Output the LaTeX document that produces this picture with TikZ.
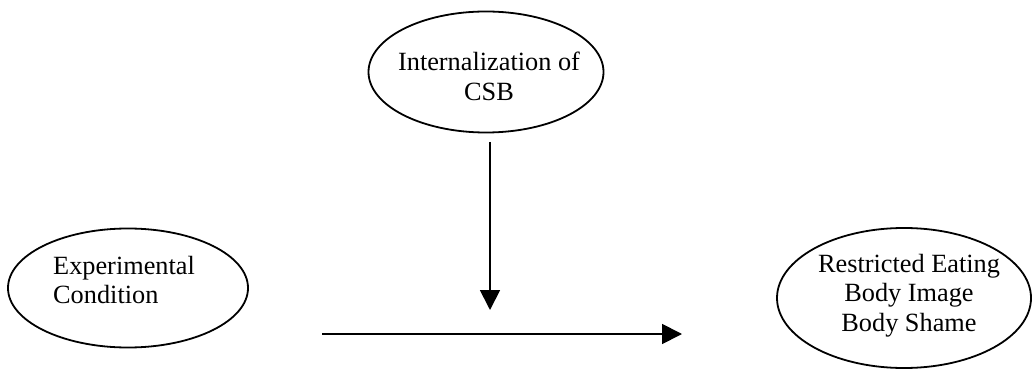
\documentclass[tikz,border=0pt]{standalone}
\usepackage{fontspec}
\setmainfont{Liberation Serif}
\usetikzlibrary{shapes.geometric,arrows.meta}

\begin{document}
\begin{tikzpicture}[x=1pt,y=-1pt,
  oval/.style={draw=black, line width=1.8pt, shape=ellipse, inner sep=0pt},
  label text/.style={inner sep=0pt, font={\fontsize{26.3}{29.5}\selectfont}},
  flow/.style={draw=black, line width=1.8pt,
    -{Triangle[length=20pt,width=20pt]}}]
  \useasboundingbox (0,0) rectangle (1032,371);

  % variables
  \node[oval, minimum width=235pt, minimum height=121pt] (moderator) at (486,72) {};
  \node[oval, minimum width=240pt, minimum height=119pt] (condition) at (128,288) {};
  \node[oval, minimum width=254pt, minimum height=140pt] (outcomes) at (904,298) {};

  % labels inside the ovals
  \node[label text, align=center, anchor=north] (moderatortext) at (489,52)
    {Internalization of\\CSB};
  \node[label text, align=left, anchor=north west] (conditiontext) at (53,256)
    {Experimental\\Condition};
  \node[label text, align=center, anchor=north] (outcomestext) at (909,254)
    {Restricted Eating\\Body Image\\Body Shame};

  % free ends of the two paths
  \coordinate (modstart) at (490,142);
  \coordinate (modend) at (490,310);
  \coordinate (pathstart) at (322,334);
  \coordinate (pathend) at (682,334);

  \draw[flow] (modstart) -- (modend);
  \draw[flow] (pathstart) -- (pathend);
\end{tikzpicture}
\end{document}
